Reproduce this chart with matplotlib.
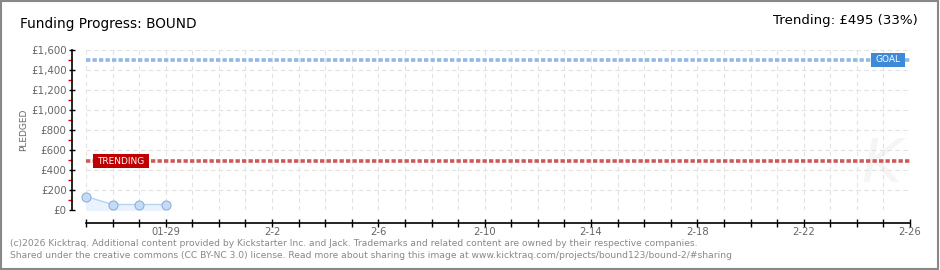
import matplotlib
matplotlib.use("Agg")
import matplotlib.pyplot as plt
import matplotlib.dates as mdates
import numpy as np
from matplotlib.patches import Rectangle

# data
dates = np.array(["2026-01-26", "2026-01-27", "2026-01-28", "2026-01-29"], dtype="datetime64[D]")
pledged = [135, 55, 55, 55]
goal = 1500
trending = 495
trending_pct = 33
x_start = np.datetime64("2026-01-26")
x_end = np.datetime64("2026-02-26")
label_dates = np.arange(np.datetime64("2026-01-29"), np.datetime64("2026-02-27"), 4)
y_ticks = list(range(0, 1601, 200))

W, H = 940, 270
fig = plt.figure(figsize=(W / 100, H / 100), dpi=100)
fig.patch.set_facecolor("white")
fig.patches.append(Rectangle((0.001, 0.002), 0.997, 0.995, transform=fig.transFigure,
                             fill=False, edgecolor="#888888", linewidth=1.5))

ax = fig.add_axes([86 / W, (H - 210) / H, 824 / W, 160 / H])
xd = mdates.date2num(dates.astype("datetime64[s]").astype(object))
x0 = mdates.date2num(x_start.astype(object))
x1 = mdates.date2num(x_end.astype(object))
ax.set_xlim(x0, x1)
ax.set_ylim(0, 1600)

# faint watermark
ax.text(0.965, 0.28, "K", transform=ax.transAxes, fontsize=44, color="#f5f5f5",
        style="italic", ha="center", va="center", zorder=0)

# grid
for d in np.arange(x0, x1 + 1):
    ax.axvline(d, color="#e2e2e2", linestyle=(0, (4, 3)), linewidth=0.8, zorder=0)
for v in y_ticks:
    ax.axhline(v, color="#e2e2e2", linestyle=(0, (4, 3)), linewidth=0.8, zorder=0)

# data
ax.fill_between(xd, pledged, 0, color="#eaf3fd", zorder=1)
ax.plot(xd, pledged, color="#b8d4f0", linewidth=1, zorder=2)
ax.plot(xd, pledged, "o", markersize=6.5, markerfacecolor="#c5dcf5",
        markeredgecolor="#8eb0dd", markeredgewidth=0.8, zorder=3, clip_on=False)

# goal / trending lines
ax.axhline(goal, color="#93b8e2", linewidth=2.6, linestyle=(0, (1.2, 0.6)), zorder=2, clip_on=False)
ax.axhline(trending, color="#cc5a5a", linewidth=2.6, linestyle=(0, (1.2, 0.6)), zorder=2, clip_on=False)

fig.patches.append(Rectangle((871 / W, (H - 66.7) / H), 34 / W, 13.4 / H, transform=fig.transFigure,
                             facecolor="#3f8ad8", edgecolor="none", zorder=5))
fig.text(888 / W, (H - 60) / H, "GOAL", color="white", fontsize=6.5, ha="center", va="center",
         family="DejaVu Sans", zorder=6)
fig.patches.append(Rectangle((93 / W, (H - 168) / H), 55.5 / W, 14 / H, transform=fig.transFigure,
                             facecolor="#c00000", edgecolor="none", zorder=5))
fig.text(120.5 / W, (H - 161) / H, "TRENDING", color="white", fontsize=6.5, ha="center", va="center",
         family="DejaVu Sans", zorder=6)

# axes styling
for s in ["top", "right"]:
    ax.spines[s].set_visible(False)
ax.spines["left"].set_position(("outward", 10))
ax.spines["bottom"].set_position(("outward", 9))
ax.spines["left"].set_linewidth(1.2)
ax.spines["bottom"].set_linewidth(1.2)

ax.set_yticks(y_ticks)
ax.set_yticklabels(["£{:,}".format(v) for v in y_ticks], color="#666666", fontsize=7.4)
ax.set_yticks(list(range(100, 1600, 200)), minor=True)
ax.tick_params(axis="y", which="major", direction="inout", length=5, width=1, pad=1.5)
ax.tick_params(axis="y", which="minor", direction="out", length=3, width=1, color="#dd0000")

lab_num = [mdates.date2num(d.astype(object)) for d in label_dates]
labels = []
for d in label_dates:
    m, day = int(str(d)[5:7]), int(str(d)[8:10])
    labels.append("{:02d}-{:02d}".format(m, day) if m == 1 else "{}-{}".format(m, day))
ax.set_xticks(lab_num)
ax.set_xticklabels(labels, color="#666666", fontsize=7.2)
ax.set_xticks(np.arange(x0, x1 + 1), minor=True)
ax.tick_params(axis="x", which="both", direction="inout", length=6, width=1, pad=0)

ax.set_ylabel("PLEDGED", color="#666666", fontsize=6.5)
ax.yaxis.set_label_coords(-58 / 824, 0.5)

fig.text(20 / W, (H - 24) / H, "Funding Progress: BOUND", fontsize=9.8, va="center", ha="left")
fig.text(918 / W, (H - 21) / H, "Trending: £{} ({}%)".format(trending, trending_pct),
         fontsize=9.6, va="center", ha="right")

fig.text(10 / W, (H - 243) / H,
         "(c)2026 Kicktraq. Additional content provided by Kickstarter Inc. and Jack. "
         "Trademarks and related content are owned by their respective companies.",
         fontsize=6.6, color="#888888", va="center", ha="left")
fig.text(10 / W, (H - 256) / H,
         "Shared under the creative commons (CC BY-NC 3.0) license. Read more about sharing this image at "
         "www.kicktraq.com/projects/bound123/bound-2/#sharing",
         fontsize=6.6, color="#888888", va="center", ha="left")

fig.savefig("out.png", dpi=100, facecolor="white")
